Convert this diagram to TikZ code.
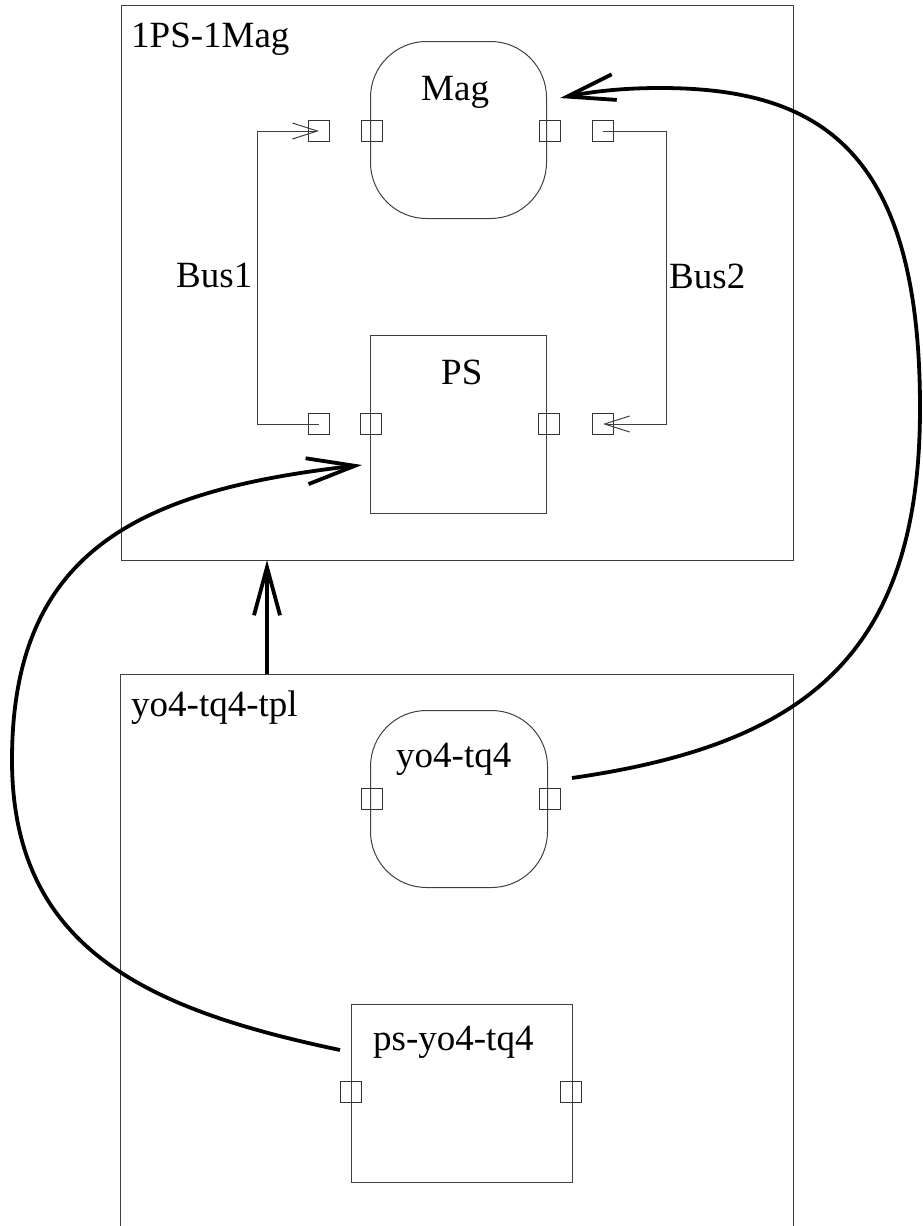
\documentclass[tikz,border=0pt]{standalone}
\usepackage{fontspec}
\setmainfont{Liberation Serif}
\usetikzlibrary{arrows.meta}
\begin{document}
\begin{tikzpicture}[x=1pt,y=-1pt,
  frame/.style={draw=black!75, line width=1pt, inner sep=0pt},
  port/.style={draw=black!80, line width=0.9pt, minimum size=21pt, inner sep=0pt},
  lbl/.style={font=\fontsize{37}{41}\selectfont, inner sep=0pt, anchor=base west},
  bus/.style={draw=black!75, line width=1pt, -{Straight Barb[length=25pt,width=16pt]}},
  link/.style={draw=black, line width=3.8pt, -{Straight Barb[length=48pt,width=26pt]}}
]
\useasboundingbox (0,0) rectangle (923,1226);

% containers
\node[frame, anchor=north west, minimum width=672pt, minimum height=555pt] (sys) at (121,5) {};
\draw[frame] (120,1240) |- (793,674) -- (793,1240);

% blocks
\node[frame, rounded corners=56pt, anchor=north west, minimum width=176pt, minimum height=177pt] (mag) at (370,41) {};
\node[frame, anchor=north west, minimum width=176pt, minimum height=178pt] (ps) at (370,335) {};
\node[frame, rounded corners=56pt, anchor=north west, minimum width=177pt, minimum height=177pt] (yo) at (370,710) {};
\node[frame, anchor=north west, minimum width=221pt, minimum height=178pt] (psyo) at (351,1004) {};

% ports
\node[port] (magL) at (372,131) {};
\node[port] (magR) at (550,131) {};
\node[port] (magLo) at (319,131) {};
\node[port] (magRo) at (603,131) {};
\node[port] (psL) at (371,424) {};
\node[port] (psR) at (549,424) {};
\node[port] (psLo) at (319,424) {};
\node[port] (psRo) at (603,424) {};
\node[port] (yoL) at (372,799) {};
\node[port] (yoR) at (550,799) {};
\node[port] (psyoL) at (351,1092) {};
\node[port] (psyoR) at (571,1092) {};

% labels
\node[lbl] (tsys) at (131,47) {1PS-1Mag};
\node[lbl] (tmag) at (421,100) {Mag};
\node[lbl] (tbus1) at (176,287) {Bus1};
\node[lbl] (tbus2) at (669,288) {Bus2};
\node[lbl] (tps) at (441,384) {PS};
\node[lbl] (ttpl) at (131,716) {yo4-tq4-tpl};
\node[lbl] (tyo) at (396,767) {yo4-tq4};
\node[lbl] (tpsyo) at (373,1050) {ps-yo4-tq4};

% buses
\draw[bus] (psLo.center) -- ++(-62,0) |- (magLo.center);
\draw[bus] (magRo.center) -- ++(63,0) |- (psRo.center);

% thick links
\coordinate (upS) at (267,674);
\coordinate (upE) at (267,560);
\draw[link] (upS) -- (upE);

\coordinate (c1) at (572,778);
\coordinate (c2) at (920,408);
\coordinate (c3) at (660,88);
\coordinate (c4) at (560,98);
\draw[link] (c1) .. controls (800,745) and (920,660) .. (c2)
  .. controls (920,150) and (820,88) .. (c3)
  .. controls (620,88) and (590,92) .. (c4);

\coordinate (d1) at (340,1050);
\coordinate (d2) at (12,760);
\coordinate (d3) at (362,465);
\draw[link] (d1) .. controls (150,1010) and (12,950) .. (d2)
  .. controls (12,550) and (140,490) .. (d3);
\end{tikzpicture}
\end{document}
